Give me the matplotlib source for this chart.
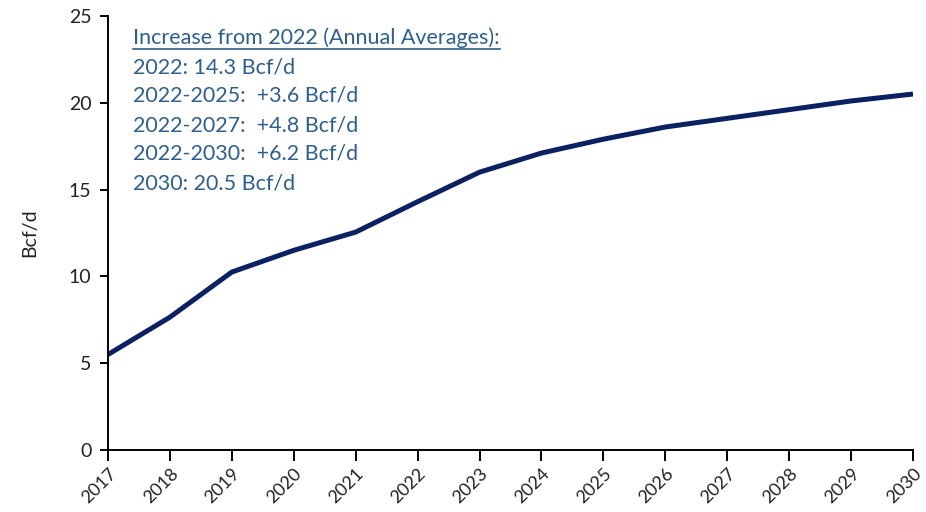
import numpy as np
import matplotlib.pyplot as plt
from matplotlib.lines import Line2D

plt.rcParams['font.family'] = ['Lato', 'DejaVu Sans']

years = [2017, 2018, 2019, 2020, 2021, 2022, 2023, 2024, 2025, 2026, 2027, 2028, 2029, 2030]
bcfd = [5.5, 7.65, 10.25, 11.5, 12.55, 14.3, 16.0, 17.1, 17.9, 18.6, 19.1, 19.6, 20.1, 20.5]
yticks = [0, 5, 10, 15, 20, 25]
note_head = "Increase from 2022 (Annual Averages):"
note_lines = ["2022: 14.3 Bcf/d",
              "2022-2025:  +3.6 Bcf/d",
              "2022-2027:  +4.8 Bcf/d",
              "2022-2030:  +6.2 Bcf/d",
              "2030: 20.5 Bcf/d"]

navy = "#0b2161"
txtblue = "#2f5f8c"

fig = plt.figure(figsize=(9.26, 5.12), dpi=100)
ax = fig.add_axes([0.1166, 0.121, 0.8694, 0.848])

ax.plot(years, bcfd, color=navy, lw=3.6, solid_capstyle='butt')

ax.set_xlim(2017, 2030)
ax.set_ylim(0, 25)
ax.set_xticks(years)
ax.set_xticklabels([str(y) for y in years], rotation=45, ha='right',
                   rotation_mode='anchor', fontsize=13, color='#222222')
ax.set_yticks(yticks)
ax.set_yticklabels([str(v) for v in yticks], fontsize=14, color='#222222')
ax.set_ylabel("Bcf/d", fontsize=14, color='#222222', labelpad=22)

for s in ['top', 'right']:
    ax.spines[s].set_visible(False)
for s in ['left', 'bottom']:
    ax.spines[s].set_linewidth(1.4)
    ax.spines[s].set_color('black')
ax.tick_params(axis='y', length=6, width=1.4, pad=6)
ax.tick_params(axis='x', length=8, width=1.4, pad=3)

# note block
x0 = 133 / 926
y0 = 1 - 38 / 512
dy = 29 / 512
head = fig.text(x0, y0, note_head, fontsize=15.5, color=txtblue, va='center', ha='left')
for i, line in enumerate(note_lines):
    fig.text(x0, y0 - (i + 1) * dy, line, fontsize=15.5, color=txtblue, va='center', ha='left')

fig.canvas.draw()
bb = head.get_window_extent().transformed(fig.transFigure.inverted())
fig.add_artist(Line2D([bb.x0, bb.x1], [bb.y0 - 0.002, bb.y0 - 0.002],
                      transform=fig.transFigure, color=txtblue, lw=1.2))

fig.savefig("out.png", dpi=100)
